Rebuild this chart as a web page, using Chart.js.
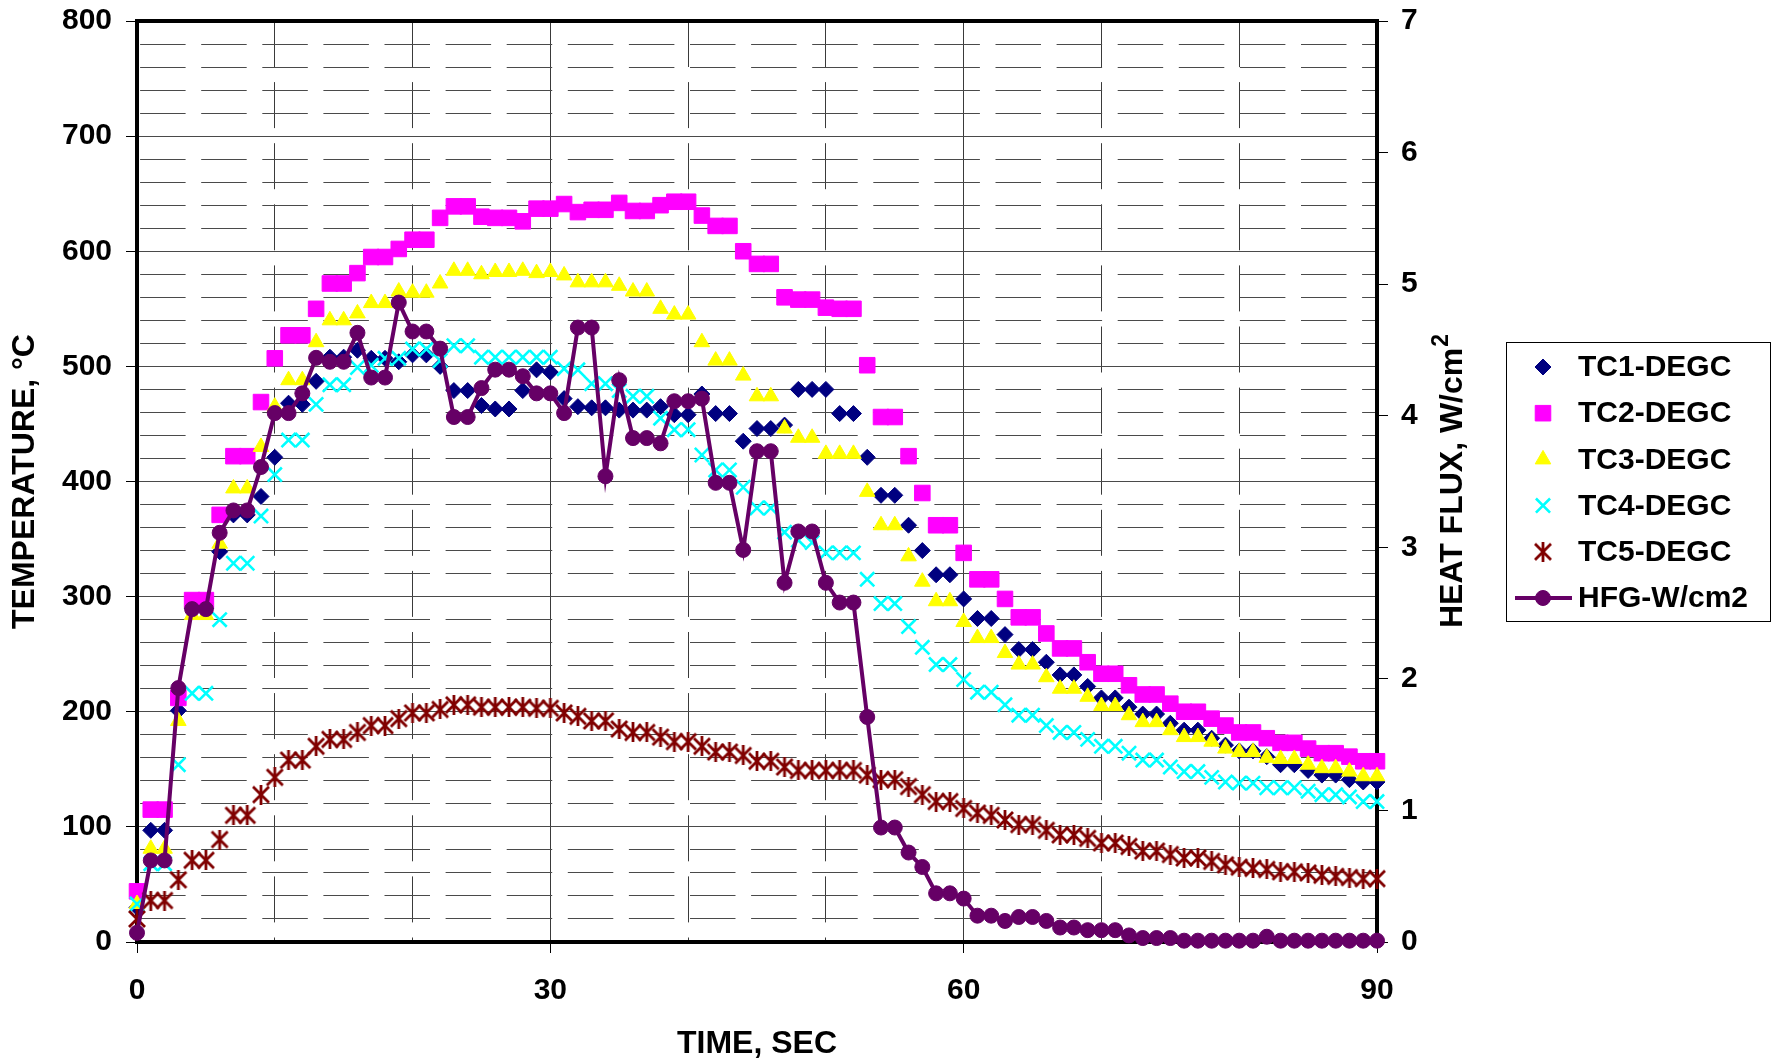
<!DOCTYPE html>
<html>
<head>
<meta charset="utf-8">
<title>Temperature and heat flux</title>
<script src="https://cdn.jsdelivr.net/npm/chart.js@4.4.1/dist/chart.umd.min.js"></script>
<style>
  html, body { margin: 0; padding: 0; background: #fff; }
  #heatChart { display: block; }
</style>
</head>
<body>
<canvas id="heatChart" width="1778" height="1063"></canvas>
<script>
// time axis, one reading per second
const seconds = [0, 1, 2, 3, 4, 5, 6, 7, 8, 9, 10, 11, 12, 13, 14, 15, 16, 17, 18, 19,
    20, 21, 22, 23, 24, 25, 26, 27, 28, 29, 30, 31, 32, 33, 34, 35, 36, 37, 38, 39,
    40, 41, 42, 43, 44, 45, 46, 47, 48, 49, 50, 51, 52, 53, 54, 55, 56, 57, 58, 59,
    60, 61, 62, 63, 64, 65, 66, 67, 68, 69, 70, 71, 72, 73, 74, 75, 76, 77, 78, 79,
    80, 81, 82, 83, 84, 85, 86, 87, 88, 89, 90];

// thermocouples, deg C
const tc1 = [30, 97, 97, 201, 290, 290, 339, 371, 371, 387, 421, 468, 467, 487, 508, 508, 514, 507, 507, 504,
    510, 510, 500, 479, 479, 466, 463, 463, 479, 497, 495, 472, 465, 464, 464, 462, 462, 462, 465, 458,
    458, 476, 459, 459, 435, 446, 446, 449, 480, 480, 480, 459, 459, 421, 388, 388, 362, 340, 319, 319,
    298, 281, 281, 267, 254, 254, 243, 232, 232, 222, 212, 212, 204, 198, 198, 190, 184, 184, 177, 171,
    166, 166, 161, 154, 154, 149, 145, 145, 141, 139, 139];
const tc2 = [44, 115, 115, 212, 297, 297, 371, 422, 422, 469, 507, 527, 527, 550, 572, 572, 581, 595, 595, 602,
    610, 610, 629, 639, 639, 630, 629, 629, 626, 637, 637, 641, 634, 636, 636, 642, 635, 635, 640, 643,
    643, 631, 622, 622, 600, 589, 589, 560, 558, 558, 551, 550, 550, 501, 456, 456, 422, 390, 362, 362,
    338, 315, 315, 298, 282, 282, 268, 255, 255, 243, 233, 233, 223, 215, 215, 207, 200, 200, 194, 188,
    182, 182, 177, 173, 173, 168, 164, 164, 161, 157, 157];
const tc3 = [33, 81, 81, 192, 284, 284, 346, 394, 394, 430, 465, 488, 488, 521, 540, 540, 546, 555, 555, 565,
    564, 564, 572, 583, 583, 580, 582, 582, 583, 581, 582, 579, 573, 573, 573, 570, 565, 565, 550, 545,
    545, 521, 505, 505, 492, 474, 474, 446, 438, 438, 424, 424, 424, 391, 362, 362, 335, 313, 296, 296,
    278, 264, 264, 251, 241, 241, 230, 220, 220, 213, 205, 205, 197, 191, 191, 184, 178, 178, 174, 168,
    165, 165, 160, 159, 159, 154, 151, 151, 148, 144, 144];
const tc4 = [33, 68, 68, 154, 216, 216, 280, 329, 329, 370, 406, 436, 436, 467, 484, 484, 499, 501, 507, 507,
    515, 515, 505, 518, 518, 508, 508, 508, 508, 508, 508, 498, 497, 485, 485, 479, 474, 474, 455, 445,
    445, 423, 410, 410, 395, 377, 377, 356, 349, 347, 338, 338, 338, 315, 294, 294, 274, 256, 241, 241,
    228, 217, 217, 206, 197, 197, 188, 182, 182, 176, 170, 170, 164, 158, 158, 152, 148, 148, 143, 139,
    138, 138, 134, 134, 134, 131, 128, 128, 126, 122, 122];
const tc5 = [20, 36, 36, 54, 71, 71, 89, 110, 110, 128, 143, 158, 158, 170, 176, 176, 182, 188, 188, 194,
    199, 199, 202, 206, 206, 204, 204, 204, 204, 203, 203, 199, 196, 192, 192, 185, 182, 182, 178, 174,
    174, 170, 165, 165, 162, 157, 157, 152, 149, 149, 149, 149, 149, 145, 141, 141, 135, 128, 122, 122,
    116, 112, 110, 106, 102, 102, 97, 93, 93, 90, 86, 86, 83, 79, 79, 76, 73, 73, 70, 67,
    65, 64, 63, 61, 61, 60, 58, 57, 56, 55, 55];

// heat flux gauge, W/cm2 (right axis)
const hfg = [0.07, 0.62, 0.62, 1.93, 2.53, 2.53, 3.11, 3.28, 3.28, 3.61, 4.02, 4.02, 4.17, 4.44, 4.41, 4.41, 4.63, 4.29, 4.29, 4.86,
    4.64, 4.64, 4.51, 3.99, 3.99, 4.21, 4.35, 4.35, 4.30, 4.17, 4.17, 4.02, 4.67, 4.67, 3.54, 4.27, 3.83, 3.83, 3.79, 4.11,
    4.11, 4.13, 3.49, 3.49, 2.98, 3.73, 3.73, 2.73, 3.12, 3.12, 2.73, 2.58, 2.58, 1.71, 0.87, 0.87, 0.68, 0.57, 0.37, 0.37,
    0.33, 0.20, 0.20, 0.16, 0.19, 0.19, 0.16, 0.11, 0.11, 0.09, 0.09, 0.09, 0.05, 0.03, 0.03, 0.03, 0.01, 0.01, 0.01, 0.01,
    0.01, 0.01, 0.04, 0.01, 0.01, 0.01, 0.01, 0.01, 0.01, 0.01, 0.01];

const seriesNames = ["TC1-DEGC", "TC2-DEGC", "TC3-DEGC", "TC4-DEGC", "TC5-DEGC", "HFG-W/cm2"];

const xTicksShown = [0, 30, 60, 90];
const yTicksShown = [0, 100, 200, 300, 400, 500, 600, 700, 800];
const fluxTicks = [0, 1, 2, 3, 4, 5, 6, 7];

const FONT = '"Liberation Sans", Arial, Helvetica, sans-serif';

function points(values) {
    return seconds.map((s, i) => ({ x: s, y: values[i] }));
}

// excel style asterisk marker: an X with a vertical bar
function asterisk(color, size, width) {
    const c = document.createElement("canvas");
    c.width = size;
    c.height = size;
    const g = c.getContext("2d");
    g.strokeStyle = color;
    g.lineWidth = width;
    g.beginPath();
    g.moveTo(2, 2); g.lineTo(size - 2, size - 2);
    g.moveTo(size - 2, 2); g.lineTo(2, size - 2);
    g.moveTo(size / 2, 0); g.lineTo(size / 2, size);
    g.stroke();
    return c;
}

function markerSet(label, values, style, radius, color, order, extra) {
    return Object.assign({
        label: label,
        data: points(values),
        showLine: false,
        pointStyle: style,
        pointRadius: radius,
        pointHoverRadius: radius,
        pointBackgroundColor: color,
        pointBorderColor: color,
        pointBorderWidth: 1,
        borderColor: color,
        backgroundColor: color,
        yAxisID: "y",
        order: order,
        clip: false
    }, extra || {});
}

const datasets = [
    markerSet(seriesNames[0], tc1, "rectRot", 8, "#000080", 6),
    markerSet(seriesNames[1], tc2, "rect", 11, "#FF00FF", 5),
    markerSet(seriesNames[2], tc3, "triangle", 9, "#FFFF00", 4),
    markerSet(seriesNames[3], tc4, "crossRot", 10, "#00FFFF", 3, { pointBorderWidth: 2.6 }),
    markerSet(seriesNames[4], tc5, asterisk("#800000", 20, 2.8), 9, "#800000", 2),
    {
        label: seriesNames[5],
        data: points(hfg),
        showLine: true,
        borderColor: "#660066",
        borderWidth: 4,
        tension: 0,
        pointStyle: "circle",
        pointRadius: 7.5,
        pointHoverRadius: 7.5,
        pointBackgroundColor: "#660066",
        pointBorderColor: "#660066",
        pointBorderWidth: 1,
        yAxisID: "y2",
        order: 1,
        clip: false
    }
];

// thick black frame round the plot area, under the markers
const framePlugin = {
    id: "frame",
    beforeDatasetsDraw(chart) {
        const a = chart.chartArea;
        const ctx = chart.ctx;
        ctx.save();
        ctx.lineWidth = 4;
        ctx.strokeStyle = "#000";
        ctx.strokeRect(a.left, a.top, a.right - a.left, a.bottom - a.top);
        ctx.restore();
    }
};

// right axis title reads bottom to top and has a superscript
const fluxTitlePlugin = {
    id: "fluxTitle",
    afterDraw(chart) {
        const a = chart.chartArea;
        const ctx = chart.ctx;
        const main = "HEAT FLUX, W/cm";
        ctx.save();
        ctx.fillStyle = "#000";
        ctx.font = "bold 32px " + FONT;
        const w1 = ctx.measureText(main).width;
        ctx.font = "bold 23px " + FONT;
        const w2 = ctx.measureText("2").width;
        ctx.translate(1451, (a.top + a.bottom) / 2);
        ctx.rotate(-Math.PI / 2);
        const start = -(w1 + w2) / 2;
        ctx.textBaseline = "alphabetic";
        ctx.textAlign = "left";
        ctx.font = "bold 32px " + FONT;
        ctx.fillText(main, start, 11);
        ctx.font = "bold 23px " + FONT;
        ctx.fillText("2", start + w1 + 1, -3);
        ctx.restore();
    }
};

// boxed legend on the right, line + marker for the gauge
const legendPlugin = {
    id: "boxLegend",
    afterDraw(chart) {
        const ctx = chart.ctx;
        ctx.save();
        ctx.lineWidth = 1;
        ctx.strokeStyle = "#000";
        ctx.strokeRect(1506.5, 342.5, 264, 279);
        chart.data.datasets.forEach((ds, i) => {
            const y = 367 + i * 46.2;
            if (ds.showLine) {
                ctx.strokeStyle = ds.borderColor;
                ctx.lineWidth = ds.borderWidth;
                ctx.beginPath();
                ctx.moveTo(1515, y);
                ctx.lineTo(1572, y);
                ctx.stroke();
            }
            ctx.fillStyle = ds.pointBackgroundColor;
            ctx.strokeStyle = ds.pointBorderColor;
            ctx.lineWidth = ds.pointBorderWidth;
            Chart.helpers.drawPoint(ctx, {
                pointStyle: ds.pointStyle,
                radius: ds.pointRadius,
                rotation: 0,
                borderWidth: ds.pointBorderWidth
            }, 1543, y);
            ctx.fillStyle = "#000";
            ctx.font = "bold 30px " + FONT;
            ctx.textBaseline = "middle";
            ctx.textAlign = "left";
            ctx.fillText(ds.label, 1578, y + 1);
        });
        ctx.restore();
    }
};

const tickFont = { family: FONT, size: 30, weight: "bold" };
const titleFont = { family: FONT, size: 32, weight: "bold" };
const clear = "rgba(0,0,0,0)";

// keep the label overhang from pushing the plot down
function noLabelOverhang(s, width) {
    s.width = width;
    s.paddingTop = 0;
    s.paddingBottom = 0;
}

const ctx = document.getElementById("heatChart").getContext("2d");
new Chart(ctx, {
    type: "line",
    data: { datasets: datasets },
    options: {
        responsive: false,
        animation: false,
        devicePixelRatio: 1,
        layout: { padding: { top: 21, right: 281, bottom: 0, left: 0 } },
        plugins: {
            legend: { display: false },
            tooltip: { enabled: false }
        },
        scales: {
            x: {
                type: "linear",
                min: 0,
                max: 90,
                ticks: {
                    stepSize: 10,
                    autoSkip: false,
                    maxRotation: 0,
                    padding: 20,
                    color: "#000",
                    font: tickFont,
                    callback: v => xTicksShown.includes(v) ? v : ""
                },
                grid: {
                    color: "#3a3a3a",
                    lineWidth: 1,
                    tickLength: 11,
                    tickColor: c => c.tick && xTicksShown.includes(c.tick.value) ? "#000" : clear
                },
                border: {
                    display: false,
                    dash: c => c.tick && xTicksShown.includes(c.tick.value) ? [] : [46, 15.1],
                    dashOffset: 0
                },
                title: { display: true, text: "TIME, SEC", color: "#000", font: titleFont, padding: 0 },
                afterFit: s => { s.height = 121; }
            },
            y: {
                position: "left",
                min: 0,
                max: 800,
                ticks: {
                    stepSize: 20,
                    autoSkip: false,
                    maxTicksLimit: 100,
                    padding: 14,
                    color: "#000",
                    font: tickFont,
                    callback: v => yTicksShown.includes(v) ? v : ""
                },
                grid: {
                    color: "#4a4a4a",
                    lineWidth: 1,
                    tickLength: 11,
                    tickColor: c => c.tick && yTicksShown.includes(c.tick.value) ? "#000" : clear
                },
                border: {
                    display: false,
                    dash: c => c.tick && yTicksShown.includes(c.tick.value) ? [] : [45.5, 15.6],
                    dashOffset: 58
                },
                title: { display: true, text: "TEMPERATURE, °C", color: "#000", font: titleFont, padding: { top: 6, bottom: 0 } },
                afterFit: s => noLabelOverhang(s, 137)
            },
            y2: {
                position: "right",
                min: 0,
                max: 7,
                ticks: {
                    stepSize: 1,
                    autoSkip: false,
                    padding: 13,
                    color: "#000",
                    font: tickFont,
                    callback: v => fluxTicks.includes(v) ? v : ""
                },
                grid: { drawOnChartArea: false, tickLength: 11, tickColor: "#000" },
                border: { display: false },
                title: { display: false },
                afterFit: s => noLabelOverhang(s, 120)
            }
        }
    },
    plugins: [framePlugin, fluxTitlePlugin, legendPlugin]
});
</script>
</body>
</html>
